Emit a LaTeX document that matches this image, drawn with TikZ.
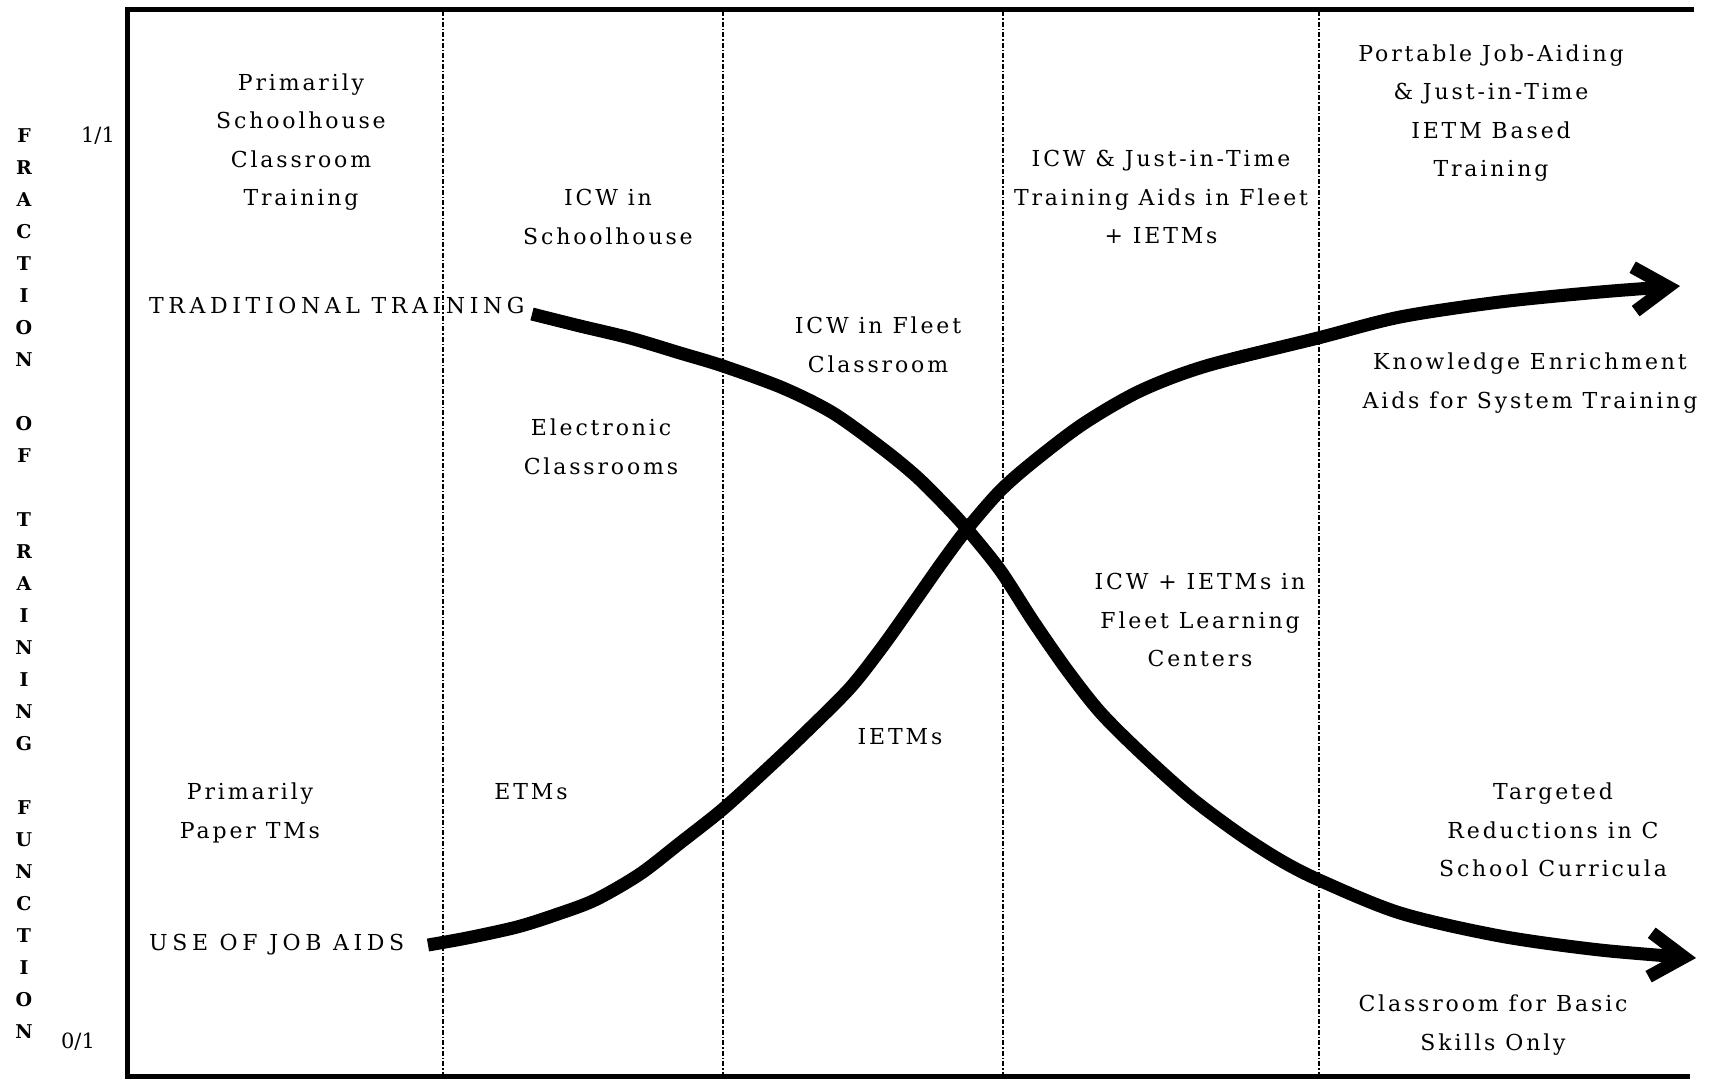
\documentclass[tikz,border=0pt]{standalone}
\usepackage{fontspec}
\setmainfont[LetterSpace=13]{DejaVu Serif}
\newfontfamily\capsfont[LetterSpace=21]{DejaVu Serif}
\newfontfamily\axisfont{DejaVu Serif}
\usetikzlibrary{arrows.meta}
\begin{document}
\begin{tikzpicture}[x=1pt,y=-1pt,
  lbl/.style={align=center, inner sep=0pt, font=\fontsize{22}{38.5}\selectfont},
  capslbl/.style={anchor=west, inner sep=0pt, font=\capsfont\fontsize{22}{38.5}\selectfont},
  axislbl/.style={align=center, inner sep=0pt, font=\axisfont\bfseries\fontsize{19}{32}\selectfont},
  ticklbl/.style={inner sep=0pt, font=\axisfont\fontsize{21}{22}\selectfont},
  frame/.style={line width=5pt},
  divider/.style={line width=1.8pt, dash pattern=on 5pt off 2pt on 1.5pt off 2pt},
  trend/.style={line width=13pt, -{Straight Barb[length=34pt,width=44pt]}}
]
\useasboundingbox (0,0) rectangle (1710,1079);

% frame
\coordinate (tl) at (127,9);
\coordinate (tr) at (1694,9);
\coordinate (bl) at (127,1076);
\coordinate (br) at (1690,1076);
\draw[frame] (tr) -- (tl) -- (bl) -- (br);

% dividers
\foreach \x/\n in {443/a,723/b,1003/c,1319/d}{
  \coordinate (d\n top) at (\x,11);
  \coordinate (d\n bot) at (\x,1074);
  \draw[divider] (d\n top) -- (d\n bot);
}

% axis labels
\node[axislbl] (ylabel) at (24,584) {F\\R\\A\\C\\T\\I\\O\\N\\\mbox{}\\O\\F\\\mbox{}\\T\\R\\A\\I\\N\\I\\N\\G\\\mbox{}\\F\\U\\N\\C\\T\\I\\O\\N};
\node[ticklbl] (one) at (98,136) {1/1};
\node[ticklbl] (zero) at (78,1042) {0/1};

% texts
\node[lbl] (t1) at (301,142) {Primarily\\Schoolhouse\\Classroom\\Training};
\node[lbl] (t2) at (608,217) {ICW in\\Schoolhouse};
\node[lbl] (t3) at (878,345) {ICW in Fleet\\Classroom};
\node[lbl] (t4) at (601,447) {Electronic\\Classrooms};
\node[lbl] (t5) at (1161,197) {ICW \& Just-in-Time\\Training Aids in Fleet\\+ IETMs};
\node[lbl] (t6) at (1491,113) {Portable Job-Aiding\\\& Just-in-Time\\IETM Based\\Training};
\node[lbl] (t7) at (1530,383) {Knowledge Enrichment\\Aids for System Training};
\node[lbl] (t8) at (1200,620) {ICW + IETMs in\\Fleet Learning\\Centers};
\node[lbl] (t9) at (900,737) {IETMs};
\node[lbl] (t10) at (250,813) {Primarily\\Paper TMs};
\node[lbl] (t11) at (531,792) {ETMs};
\node[lbl] (t12) at (1553,830) {Targeted\\Reductions in C\\School Curricula};
\node[lbl] (t13) at (1493,1025) {Classroom for Basic\\Skills Only};
\node[capslbl] (trad) at (149,305) {TRADITIONAL TRAINING};
\node[capslbl] (jobs) at (149,945) {USE OF JOB AIDS};

% traditional training curve
\coordinate (a0) at (532,314);
\coordinate (a1) at (580,326);
\coordinate (a2) at (630,338);
\coordinate (a3) at (680,353);
\coordinate (a4) at (723,366);
\coordinate (a5) at (783,388);
\coordinate (a6) at (833,413);
\coordinate (a7) at (883,449);
\coordinate (a8) at (917,477);
\coordinate (a9) at (947,507);
\coordinate (cross) at (967,529);
\coordinate (a11) at (1000,570);
\coordinate (a12) at (1033,621);
\coordinate (a13) at (1067,670);
\coordinate (a14) at (1100,712);
\coordinate (a15) at (1140,752);
\coordinate (a16) at (1190,797);
\coordinate (a17) at (1238,833);
\coordinate (a18) at (1280,860);
\coordinate (a19) at (1319,880);
\coordinate (a20) at (1400,913);
\coordinate (a21) at (1500,936);
\coordinate (a22) at (1600,950);
\coordinate (aend) at (1696,958);

% job aids curve
\coordinate (b0) at (428,945);
\coordinate (b1) at (467,938);
\coordinate (b2) at (517,927);
\coordinate (b3) at (555,915);
\coordinate (b4) at (595,900);
\coordinate (b5) at (640,874);
\coordinate (b6) at (680,843);
\coordinate (b7) at (723,809);
\coordinate (b8) at (767,769);
\coordinate (b9) at (805,733);
\coordinate (b10) at (850,688);
\coordinate (b11) at (883,646);
\coordinate (b12) at (917,598);
\coordinate (b13) at (943,561);
\coordinate (b15) at (1000,491);
\coordinate (b16) at (1033,462);
\coordinate (b17) at (1083,424);
\coordinate (b18) at (1140,391);
\coordinate (b19) at (1206,366);
\coordinate (b20) at (1318,338);
\coordinate (b21) at (1400,317);
\coordinate (b22) at (1500,302);
\coordinate (b23) at (1600,292);
\coordinate (bend) at (1680,286);

\draw[trend] plot[smooth] coordinates {(a0) (a1) (a2) (a3) (a4) (a5) (a6) (a7) (a8) (a9) (cross) (a11) (a12) (a13) (a14) (a15) (a16) (a17) (a18) (a19) (a20) (a21) (a22) (aend)};
\draw[trend] plot[smooth] coordinates {(b0) (b1) (b2) (b3) (b4) (b5) (b6) (b7) (b8) (b9) (b10) (b11) (b12) (b13) (cross) (b15) (b16) (b17) (b18) (b19) (b20) (b21) (b22) (b23) (bend)};
\end{tikzpicture}
\end{document}
